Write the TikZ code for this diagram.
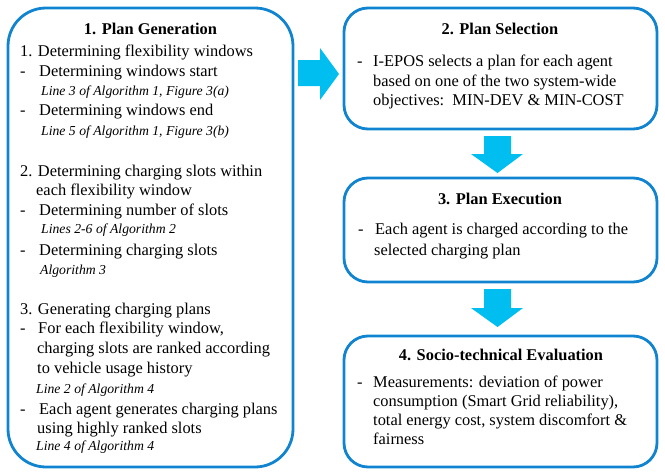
\documentclass[tikz,border=0pt]{standalone}
\usepackage{fontspec}
\setmainfont{Liberation Serif}
\definecolor{bord}{RGB}{16,132,208}
\definecolor{arr}{RGB}{0,190,240}
\begin{document}
\begin{tikzpicture}[x=1pt,y=-1pt,
  box/.style={draw=bord, line width=2.8pt, rectangle, inner sep=0pt},
  nt/.style={anchor=base west, inner sep=0pt, font=\fontsize{16.4}{20}\selectfont},
  it/.style={anchor=base west, inner sep=0pt, font=\fontsize{13.7}{16}\selectfont\itshape},
  hd/.style={anchor=base, inner sep=0pt, font=\fontsize{16.4}{20}\selectfont\bfseries},
  blk/.style={fill=arr, draw=none}]
\useasboundingbox (0,0) rectangle (665,474);

% boxes
\node[box, rounded corners=38pt, minimum width=285pt, minimum height=459pt] (gen) at (150.5,237.5) {};
\node[box, rounded corners=24pt, minimum width=313pt, minimum height=121pt] (sel) at (500.5,68.5) {};
\node[box, rounded corners=24pt, minimum width=313pt, minimum height=104pt] (exe) at (500.5,230) {};
\node[box, rounded corners=24pt, minimum width=313pt, minimum height=131pt] (eva) at (500.5,401.5) {};

% block arrows
\fill[blk] (298,60) -- (320,60) -- (320,48) -- (339,74) -- (320,100) -- (320,86) -- (298,86) -- cycle;
\fill[blk] (484,136) -- (511,136) -- (511,154) -- (523,154) -- (497.5,173) -- (471,154) -- (484,154) -- cycle;
\fill[blk] (484,289) -- (511,289) -- (511,308) -- (523,308) -- (497.5,327) -- (471,308) -- (484,308) -- cycle;

% box 1 text
\node[hd] (h1) at (150.5,34) {1. Plan Generation};
\node[nt] (a1) at (20,56) {1. Determining flexibility windows};
\node[nt] (d1) at (20,76) {-};
\node[nt] (a2) at (39,76) {Determining windows start};
\node[it] (i1) at (41,95) {Line 3 of Algorithm 1, Figure 3(a)};
\node[nt] (d2) at (20,115) {-};
\node[nt] (a3) at (39,115) {Determining windows end};
\node[it] (i2) at (41,135) {Line 5 of Algorithm 1, Figure 3(b)};
\node[nt] (a4) at (20,176) {2. Determining charging slots within};
\node[nt] (a5) at (36,195) {each flexibility window};
\node[nt] (d3) at (20,215) {-};
\node[nt] (a6) at (39,215) {Determining number of slots};
\node[it] (i3) at (41,233) {Lines 2-6 of Algorithm 2};
\node[nt] (d4) at (20,255) {-};
\node[nt] (a7) at (39,255) {Determining charging slots};
\node[it] (i4) at (40,274) {Algorithm 3};
\node[nt] (a8) at (20,314) {3. Generating charging plans};
\node[nt] (d5) at (20,333) {-};
\node[nt] (a9) at (38,333) {For each flexibility window,};
\node[nt] (a10) at (37,353) {charging slots are ranked according};
\node[nt] (a11) at (37,373) {to vehicle usage history};
\node[it] (i5) at (36,393) {Line 2 of Algorithm 4};
\node[nt] (d6) at (20,414) {-};
\node[nt] (a12) at (39,414) {Each agent generates charging plans};
\node[nt] (a13) at (37,433) {using highly ranked slots};
\node[it] (i6) at (36,450) {Line 4 of Algorithm 4};

% box 2 text
\node[hd] (h2) at (500,34) {2. Plan Selection};
\node[nt] (d7) at (357,66) {-};
\node[nt] (b1) at (373,66) {I-EPOS selects a plan for each agent};
\node[nt] (b2) at (373,86) {based on one of the two system-wide};
\node[nt] (b3) at (373,105) {objectives:\ \ MIN-DEV \& MIN-COST};

% box 3 text
\node[hd] (h3) at (500,204) {3. Plan Execution};
\node[nt] (d8) at (358,234) {-};
\node[nt] (c1) at (375,234) {Each agent is charged according to the};
\node[nt] (c2) at (374,255) {selected charging plan};

% box 4 text
\node[hd] (h4) at (501,360) {4. Socio-technical Evaluation};
\node[nt] (d9) at (357,387) {-};
\node[nt] (e1) at (373,387) {Measurements: deviation of power};
\node[nt] (e2) at (373,406) {consumption (Smart Grid reliability),};
\node[nt] (e3) at (373,425) {total energy cost, system discomfort \&};
\node[nt] (e4) at (373,444) {fairness};
\end{tikzpicture}
\end{document}
